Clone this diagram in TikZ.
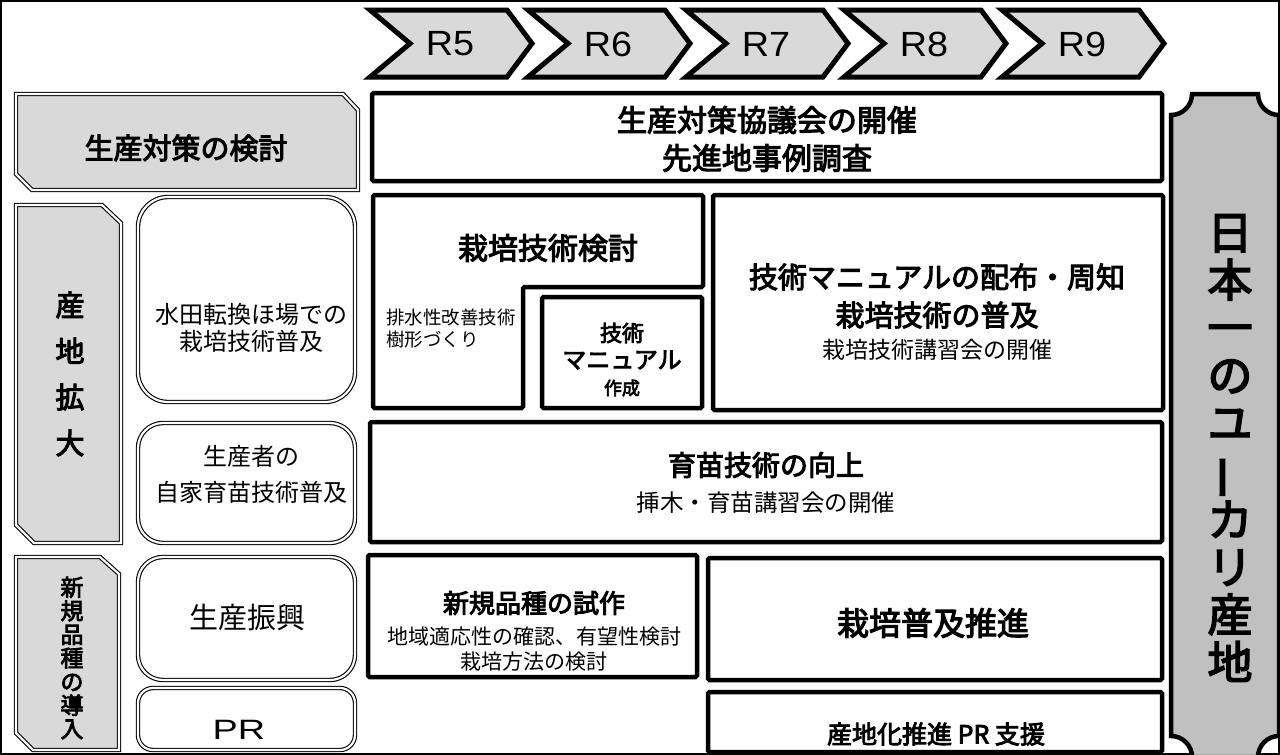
\documentclass[tikz,border=0pt]{standalone}
\usepackage{fontspec}
\usepackage{graphicx}
\setmainfont{Noto Sans CJK JP}
\newfontfamily\medfont[FakeBold=3.5]{Noto Sans CJK JP}
\newfontfamily\latinfont{Liberation Sans}
\definecolor{lgray}{HTML}{D9D9D9}
\definecolor{mgray}{HTML}{C0C0C0}
\begin{document}
\begin{tikzpicture}[x=1pt,y=-1pt,
  tbox/.style={draw=black, line width=4.5pt, fill=white, rounded corners=1.5pt, inner sep=0pt},
  dline/.style={draw=black, line width=1.1pt, double=white, double distance=2.2pt},
  glab/.style={dline, fill=lgray},
  rbox/.style={dline, fill=white, inner sep=0pt},
  chevron/.style={draw=black, line width=5pt, fill=lgray, line join=miter},
  goal/.style={draw=black, line width=4.5pt, fill=mgray},
  tx/.style={font=\fontsize{#1}{#1}\selectfont, inner sep=0pt},
  hx/.style={font=\medfont\fontsize{#1}{#1}\selectfont, inner sep=0pt},
]
\useasboundingbox (0,0) rectangle (1280,755);
\draw[line width=2pt] (1,1) rectangle (1279,754);

% year chevrons
\foreach \i/\t in {0/R5,1/R6,2/R7,3/R8,4/R9}{
  \pgfmathsetmacro\xo{370+158*\i}
  \draw[chevron] (\xo,10) -- ++(137,0) -- ++(25,33.5) -- ++(-25,33.5) -- ++(-137,0) -- ++(40,-33.5) -- cycle;
  \node[inner sep=0pt, font=\latinfont\fontsize{35}{35}\selectfont, xscale=1.08] (y\t) at (\xo+80,44) {\t};
}

% goal shape
\draw[goal] (1171,115) .. controls (1182.6,115) and (1192,105.6) .. (1192,94)
  -- (1258,94) .. controls (1258,105.6) and (1267.4,115) .. (1279,115)
  -- (1279,736) .. controls (1267.4,736) and (1258,745.4) .. (1258,757)
  -- (1192,757) .. controls (1192,745.4) and (1182.6,736) .. (1171,736) -- cycle;
\node[align=center, inner sep=0pt, font=\medfont\fontsize{45}{47.6}\selectfont] (goal) at (1230,448)
  {日\\本\\一\\の\\ユ\\ \rotatebox[origin=c]{90}{ー}\\カ\\リ\\産\\地};

% left gray labels
\draw[glab] (16,94) -- (343,94) -- (358,110) -- (358,190) -- (32,190) -- (16,174) -- cycle;
\node[hx=29] (lab1) at (186,148) {生産対策の検討};
\draw[glab] (16,205) -- (102,205) -- (121,223) -- (121,543) -- (34,543) -- (16,525) -- cycle;
\node[align=center, inner sep=0pt, font=\medfont\fontsize{29}{46}\selectfont] (lab2) at (70,374) {産\\地\\拡\\大};
\draw[glab] (16,557) -- (100,557) -- (119,574) -- (119,750) -- (33,750) -- (16,733) -- cycle;
\node[align=center, inner sep=0pt, font=\medfont\fontsize{23}{23.6}\selectfont] (lab3) at (72,658) {新\\規\\品\\種\\の\\導\\入};

% rounded double boxes
\node[rbox, rounded corners=30pt, minimum width=217pt, minimum height=205pt] (s1) at (246.5,299.5) {};
\node[tx=24, align=center, font=\fontsize{24}{27}\selectfont] (s1t) at (251,328) {水田転換ほ場での\\栽培技術普及};
\node[rbox, rounded corners=25pt, minimum width=217pt, minimum height=120pt] (s2) at (246.5,483) {};
\node[tx=24, align=center, font=\fontsize{24}{36}\selectfont] (s2t) at (251,474) {生産者の\\自家育苗技術普及};
\node[rbox, rounded corners=25pt, minimum width=217pt, minimum height=123pt] (s3) at (246.5,618.5) {};
\node[tx=29] (s3t) at (247,618) {生産振興};
\node[rbox, rounded corners=15pt, minimum width=217pt, minimum height=62pt] (s4) at (246.5,719) {};
\node[inner sep=0pt, font=\latinfont\fontsize{28}{28}\selectfont, xscale=1.35] (s4t) at (239,730) {PR};

% top box
\node[tbox, minimum width=790pt, minimum height=88pt] (b1) at (767,137) {};
\node[hx=30] (b1a) at (767,120) {生産対策協議会の開催};
\node[hx=30] (b1b) at (767,158) {先進地事例調査};

% L-shaped box
\draw[line width=4.5pt, rounded corners=1.5pt, fill=white] (373,195) -- (703,195) -- (703,287) -- (523,287) -- (523,408) -- (373,408) -- cycle;
\node[hx=30] (b2) at (548,248) {栽培技術検討};
\node[align=left, anchor=west, inner sep=0pt, font=\fontsize{18.5}{22}\selectfont] (b2s) at (386,329) {排水性改善技術\\樹形づくり};

% manual box
\node[tbox, minimum width=160pt, minimum height=111pt] (b3) at (622,352.5) {};
\node[hx=22] (b3a) at (622,333) {技術};
\node[hx=24] (b3b) at (622,360) {マニュアル};
\node[hx=18] (b3c) at (622,388) {作成};

% distribution box
\node[tbox, minimum width=450pt, minimum height=215pt] (b4) at (938,302.5) {};
\node[hx=29] (b4a) at (937,277) {技術マニュアルの配布・周知};
\node[hx=29] (b4b) at (937,315) {栽培技術の普及};
\node[tx=23] (b4c) at (937,350) {栽培技術講習会の開催};

% seedling box
\node[tbox, minimum width=792pt, minimum height=120pt] (b5) at (766,482) {};
\node[hx=28] (b5a) at (766,465) {育苗技術の向上};
\node[tx=23.5] (b5b) at (766,503) {挿木・育苗講習会の開催};

% new variety trial
\node[tbox, minimum width=329pt, minimum height=122pt] (b6) at (532.5,616) {};
\node[hx=26] (b6a) at (534,603) {新規品種の試作};
\node[tx=21] (b6b) at (534,637) {地域適応性の確認、有望性検討};
\node[tx=21] (b6c) at (534,662) {栽培方法の検討};

% promotion
\node[tbox, minimum width=454pt, minimum height=122pt] (b7) at (935,619) {};
\node[hx=32] (b7a) at (933,623) {栽培普及推進};
\node[tbox, minimum width=454pt, minimum height=60pt] (b8) at (935,722) {};
\node[hx=25] (b8a) at (936,734) {産地化推進 PR 支援};
\end{tikzpicture}
\end{document}
